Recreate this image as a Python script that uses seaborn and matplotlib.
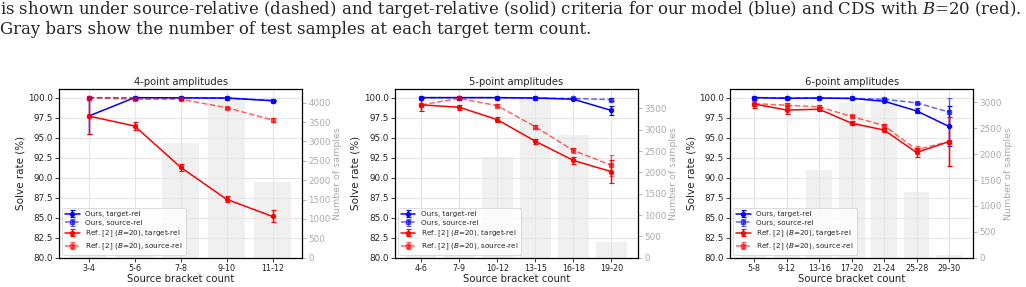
import numpy as np
import pandas as pd
import matplotlib
matplotlib.use("Agg")
import matplotlib.pyplot as plt
import seaborn as sns

# ---------------- data ----------------
four_cats = ['3-4', '5-6', '7-8', '9-10', '11-12']
four_counts = [60, 820, 2960, 4140, 1950]
four_ours_tgt = [97.7, 100.0, 99.97, 99.95, 99.62]
four_ours_tgt_err = [2.3, 0.03, 0.03, 0.05, 0.08]
four_ours_src = [100.0, 99.98, 99.97, 99.95, 99.62]
four_ours_src_err = [0.03, 0.03, 0.03, 0.05, 0.08]
four_ref_tgt = [97.7, 96.45, 91.3, 87.3, 85.15]
four_ref_tgt_err = [2.3, 0.55, 0.45, 0.4, 0.75]
four_ref_src = [100.0, 99.8, 99.8, 98.75, 97.2]
four_ref_src_err = [0.05, 0.12, 0.12, 0.12, 0.25]

five_cats = ['4-6', '7-9', '10-12', '13-15', '16-18', '19-20']
five_counts = [150, 480, 2360, 3760, 2875, 370]
five_ours_tgt = [100.0, 100.0, 100.0, 99.95, 99.8, 98.4]
five_ours_tgt_err = [0.02, 0.02, 0.02, 0.04, 0.1, 0.55]
five_ours_src = [100.0, 100.0, 100.0, 99.95, 99.9, 99.75]
five_ours_src_err = [0.02, 0.02, 0.02, 0.04, 0.08, 0.15]
five_ref_tgt = [99.1, 98.8, 97.25, 94.55, 92.15, 90.75]
five_ref_tgt_err = [0.8, 0.3, 0.3, 0.3, 0.4, 1.4]
five_ref_src = [99.1, 99.9, 99.0, 96.35, 93.4, 91.55]
five_ref_src_err = [0.8, 0.15, 0.2, 0.25, 0.35, 1.3]

six_cats = ['5-8', '9-12', '13-16', '17-20', '21-24', '25-28', '29-30']
six_counts = [135, 500, 1690, 2990, 3020, 1270, 45]
six_ours_tgt = [100.0, 99.92, 99.95, 99.9, 99.55, 98.35, 96.4]
six_ours_tgt_err = [0.04, 0.05, 0.04, 0.05, 0.1, 0.3, 2.5]
six_ours_src = [100.0, 99.97, 99.95, 99.92, 99.8, 99.35, 98.2]
six_ours_src_err = [0.04, 0.1, 0.04, 0.05, 0.1, 0.15, 1.8]
six_ref_tgt = [99.2, 98.45, 98.55, 96.8, 95.95, 93.15, 94.5]
six_ref_tgt_err = [0.5, 0.45, 0.25, 0.25, 0.25, 0.6, 3.1]
six_ref_src = [99.25, 99.05, 98.85, 97.65, 96.5, 93.5, 94.5]
six_ref_src_err = [0.35, 0.3, 0.2, 0.2, 0.25, 0.5, 3.1]

titles = ['4-point amplitudes', '5-point amplitudes', '6-point amplitudes']
right_max = [4353, 3953, 3258]
right_ticks_max = [4000, 3500, 3000]

panels = [
    (four_cats, four_counts, four_ours_tgt, four_ours_tgt_err, four_ours_src, four_ours_src_err,
     four_ref_tgt, four_ref_tgt_err, four_ref_src, four_ref_src_err),
    (five_cats, five_counts, five_ours_tgt, five_ours_tgt_err, five_ours_src, five_ours_src_err,
     five_ref_tgt, five_ref_tgt_err, five_ref_src, five_ref_src_err),
    (six_cats, six_counts, six_ours_tgt, six_ours_tgt_err, six_ours_src, six_ours_src_err,
     six_ref_tgt, six_ref_tgt_err, six_ref_src, six_ref_src_err),
]

caption1 = ("is shown under source-relative (dashed) and target-relative (solid) criteria for our model (blue) "
            "and CDS with $B$=20 (red).")
caption2 = "Gray bars show the number of test samples at each target term count."

# ---------------- style ----------------
sns.set_theme(style="whitegrid")
plt.rcParams['font.family'] = ['DejaVu Sans']
plt.rcParams['mathtext.fontset'] = 'dejavusans'

fig = plt.figure(figsize=(10.26, 2.87), dpi=100)
fig.patch.set_facecolor('white')

lefts = [0.0578, 0.3850, 0.7118]
width = 0.2365
bottom = 0.1021
height = 0.5878

blue = '#0000ff'
red = '#ff0000'

for i, (cats, counts, ot, ote, os_, ose, rt, rte, rs, rse) in enumerate(panels):
    ax = fig.add_axes([lefts[i], bottom, width, height])
    ax2 = ax.twinx()
    x = np.arange(len(cats))
    df = pd.DataFrame({'cat': cats, 'n': counts})
    sns.barplot(data=df, x='cat', y='n', ax=ax2, color='#f0f0f0', width=0.8,
                saturation=1, edgecolor='none', order=cats)
    ax2.set_ylim(0, right_max[i])
    ax2.set_yticks(np.arange(0, right_ticks_max[i] + 1, 500))
    ax2.grid(False)
    ax2.set_ylabel('Number of samples', fontsize=6.8, color='#aaaaaa', labelpad=2)
    ax2.tick_params(axis='y', colors='#aaaaaa', labelsize=6.3, length=3, width=0.6, pad=1.5)
    ax2.set_xlabel('')

    ax.set_zorder(ax2.get_zorder() + 1)
    ax.patch.set_visible(False)

    ekw = dict(capsize=1.8, elinewidth=1.0, capthick=0.8, markersize=2.8, linewidth=1.1)
    ax.errorbar(x, ot, yerr=ote, color=blue, marker='o', linestyle='-',
                label='Ours, target-rel', **ekw)
    ax.errorbar(x, os_, yerr=ose, color=blue, marker='s', linestyle='--', alpha=0.6,
                label='Ours, source-rel', **ekw)
    ax.errorbar(x, rt, yerr=rte, color=red, marker='o', linestyle='-',
                label='Ref. [2] ($B$=20), target-rel', **ekw)
    ax.errorbar(x, rs, yerr=rse, color=red, marker='s', linestyle='--', alpha=0.6,
                label='Ref. [2] ($B$=20), source-rel', **ekw)

    n = len(cats)
    pad = 0.05 * (n - 1 + 0.8)
    ax.set_xlim(-0.4 - pad, n - 1 + 0.4 + pad)
    ax.set_ylim(80, 101.08)
    ax.set_yticks(np.arange(80, 100.01, 2.5))
    ax.set_yticklabels([f'{v:.1f}' for v in np.arange(80, 100.01, 2.5)])
    ax.set_xticks(x)
    ax.set_xticklabels(cats)
    ax.grid(True, color='#e6e6e6', linewidth=0.8)
    ax.tick_params(axis='x', labelsize=5.8, length=3, width=0.6, pad=1.5, colors='#222222',
                   bottom=True)
    ax.tick_params(axis='y', labelsize=6.3, length=3, width=0.6, pad=1.5, colors='#222222', left=True)
    ax.set_title(titles[i], fontsize=7.2, pad=3)
    ax.set_xlabel('Source bracket count', fontsize=7.3, labelpad=1)
    ax.set_ylabel('Solve rate (%)', fontsize=7.5, labelpad=2)
    for sp in ax.spines.values():
        sp.set_color('black')
        sp.set_linewidth(0.9)
    for sp in ax2.spines.values():
        sp.set_visible(False)

    leg = ax.legend(loc='lower left', fontsize=5.2, frameon=True, framealpha=0.8,
                    borderpad=0.4, labelspacing=0.35, handlelength=2.0,
                    borderaxespad=0.4)
    leg.get_frame().set_linewidth(0.6)
    leg.get_frame().set_edgecolor('#cccccc')

fig.text(0.0, 1 - 9.5 / 287, caption1, fontsize=11.85, family='DejaVu Serif',
         math_fontfamily='dejavuserif', ha='left', va='center')
fig.text(0.0, 1 - 29.5 / 287, caption2, fontsize=11.85, family='DejaVu Serif',
         math_fontfamily='dejavuserif', ha='left', va='center')

fig.savefig('out.png', dpi=100, facecolor='white')
